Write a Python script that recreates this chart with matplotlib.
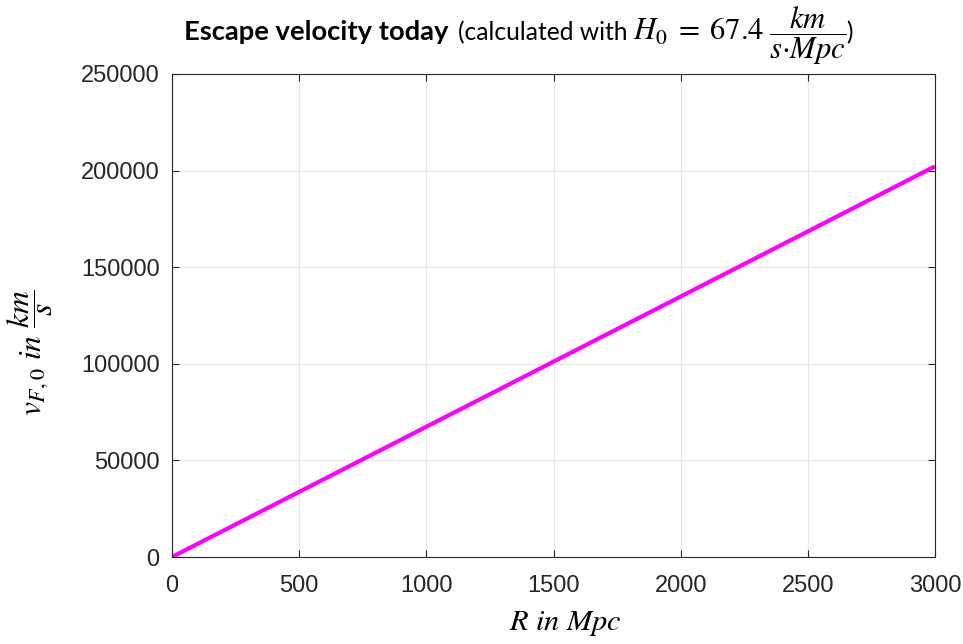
import matplotlib.pyplot as plt
import numpy as np

# values (escape velocity vs distance)
R_mpc = [0, 500, 1000, 1500, 2000, 2500, 3000]
v_kms = [0, 33700, 67400, 101100, 134800, 168500, 202200]

x_ticks = [0, 500, 1000, 1500, 2000, 2500, 3000]
y_ticks = [0, 50000, 100000, 150000, 200000, 250000]

plt.rcParams['mathtext.fontset'] = 'stix'
plt.rcParams['font.family'] = 'Liberation Sans'

W, H = 963, 644
fig = plt.figure(figsize=(W / 100, H / 100), dpi=100)
ax = fig.add_axes([172 / W, 1 - 557 / H, (935 - 172) / W, (557 - 74) / H])

ax.plot(R_mpc, v_kms, color=(1, 0, 1), linewidth=3, solid_capstyle='butt')

ax.set_xlim(0, 3000)
ax.set_ylim(0, 250000)
ax.set_xticks(x_ticks)
ax.set_yticks(y_ticks)
ax.set_xticklabels([str(t) for t in x_ticks])
ax.set_yticklabels([str(t) for t in y_ticks])
ax.tick_params(direction='in', length=5, width=0.8, labelsize=17,
               colors='#262626', top=True, right=True)
ax.tick_params(axis='x', pad=13)
ax.tick_params(axis='y', pad=9)
ax.grid(True, color='#e6e6e6', linewidth=0.8)
ax.set_axisbelow(True)
for s in ax.spines.values():
    s.set_color('#262626')
    s.set_linewidth(0.8)


def fit(t, size, vertical=False):
    # scale the font so the text covers `size` pixels
    fig.canvas.draw()
    bb = t.get_window_extent()
    cur = bb.height if vertical else bb.width
    t.set_fontsize(t.get_fontsize() * size / cur)


# axis labels
xl = fig.text(565 / W, 1 - 623 / H, r'$R\ in\ Mpc$', fontsize=20,
              ha='center', va='center')
fit(xl, 113)
yl = fig.text(30 / W, 1 - 353 / H, r'$v_{F,0}\ in\ \dfrac{km}{s}$', fontsize=22,
              rotation=90, ha='center', va='center')
fit(yl, 127, vertical=True)

# title: bold part, regular part, math part, closing bracket
base = 1 - 40 / H
t1 = fig.text(184 / W, base, 'Escape velocity today', fontsize=18,
              fontweight='bold', family='Lato', va='baseline', ha='left')
fit(t1, 265)
t2 = fig.text(458 / W, base, '(calculated with', fontsize=t1.get_fontsize(),
              family='Lato', va='baseline', ha='left')
fit(t2, 169)
t3 = fig.text(633 / W, base, r'$H_0\;=\;67.4\;\dfrac{km}{s{\cdot}Mpc}$',
              fontsize=19, va='baseline', ha='left')
fit(t3, 214)
fig.canvas.draw()
bb = t3.get_window_extent()
fig.text(bb.x1 / W, base, ')', fontsize=t2.get_fontsize(), family='Lato',
         va='baseline', ha='left')

fig.savefig('out.png', dpi=100)
